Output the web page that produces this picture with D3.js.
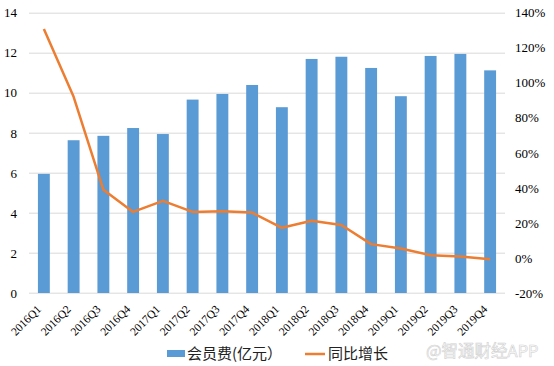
<!DOCTYPE html>
<html>
<head>
<meta charset="utf-8">
<script src="https://cdn.jsdelivr.net/npm/d3@7"></script>
<style>
body { margin: 0; background: #fff; }
</style>
</head>
<body>
<script>
var width = 554;
var height = 366;

// data
var quarters = ["2016Q1","2016Q2","2016Q3","2016Q4","2017Q1","2017Q2","2017Q3","2017Q4",
                "2018Q1","2018Q2","2018Q3","2018Q4","2019Q1","2019Q2","2019Q3","2019Q4"];
var fees = [5.95, 7.63, 7.85, 8.24, 7.94, 9.66, 9.94, 10.39,
            9.28, 11.69, 11.8, 11.24, 9.83, 11.84, 11.94, 11.12];
var growth = [130.7, 92, 38.9, 26.3, 32.6, 26.3, 26.7, 25.9,
              17.2, 21.2, 18.8, 7.9, 5.4, 1.6, 0.9, -0.8];
var leftTicks = [0, 2, 4, 6, 8, 10, 12, 14];
var rightTicks = [-20, 0, 20, 40, 60, 80, 100, 120, 140];
var legendNames = ["会员费(亿元）", "同比增长"];

var serif = "'Liberation Serif', 'Times New Roman', serif";
var cjk = "'Noto Sans CJK SC', 'Noto Sans', sans-serif";

var margin = {top: 12.7, right: 49, bottom: 73, left: 29};
var innerW = width - margin.left - margin.right;
var innerH = height - margin.top - margin.bottom;

var svg = d3.select("body").append("svg")
            .attr("width", width)
            .attr("height", height);

var g = svg.append("g")
           .attr("transform", "translate(" + margin.left + "," + margin.top + ")");

var x = d3.scaleBand()
          .domain(quarters)
          .range([0, innerW])
          .paddingInner(0.6)
          .paddingOuter(0.3);

var yL = d3.scaleLinear().domain([0, 14]).range([innerH, 0]);
var yR = d3.scaleLinear().domain([-20, 140]).range([innerH, 0]);

// gridlines
g.append("g")
 .selectAll("line")
 .data(leftTicks)
 .enter()
 .append("line")
 .attr("x1", 0)
 .attr("x2", innerW)
 .attr("y1", function(d) { return Math.round(yL(d)) + 0.5; })
 .attr("y2", function(d) { return Math.round(yL(d)) + 0.5; })
 .attr("stroke", "#d9d9d9")
 .attr("stroke-width", 1);

// bars
g.append("g")
 .selectAll("rect")
 .data(fees)
 .enter()
 .append("rect")
 .attr("x", function(d, i) { return x(quarters[i]); })
 .attr("width", x.bandwidth())
 .attr("y", function(d) { return yL(d); })
 .attr("height", function(d) { return innerH - yL(d); })
 .attr("fill", "#5b9bd5");

// growth line
var line = d3.line()
             .x(function(d, i) { return x(quarters[i]) + x.bandwidth() / 2; })
             .y(function(d) { return yR(d); });

g.append("path")
 .datum(growth)
 .attr("d", line)
 .attr("fill", "none")
 .attr("stroke", "#ed7d31")
 .attr("stroke-width", 2.5)
 .attr("stroke-linejoin", "round");

// left axis
var axL = g.append("g")
           .call(d3.axisLeft(yL).tickValues(leftTicks).tickSize(0).tickPadding(12));
axL.select(".domain").remove();
axL.attr("font-family", serif).attr("font-size", 13);
axL.selectAll("text").attr("fill", "#000");

// right axis
var axR = g.append("g")
           .attr("transform", "translate(" + innerW + ",0)")
           .call(d3.axisRight(yR).tickValues(rightTicks).tickSize(0).tickPadding(10)
                   .tickFormat(function(d) { return d + "%"; }));
axR.select(".domain").remove();
axR.attr("font-family", serif).attr("font-size", 13);
axR.selectAll("text").attr("fill", "#000");

// x axis labels
var axX = g.append("g")
           .attr("transform", "translate(0," + innerH + ")")
           .call(d3.axisBottom(x).tickSize(0).tickPadding(0));
axX.select(".domain").remove();
axX.attr("font-family", serif).attr("font-size", 11.5);
axX.selectAll("text")
   .attr("fill", "#000")
   .attr("text-anchor", "end")
   .attr("dy", null)
   .attr("y", null)
   .attr("transform", "translate(-2,17) rotate(-45)");

// legend
var leg = svg.append("g")
             .attr("transform", "translate(167,354)")
             .attr("font-family", cjk)
             .attr("font-size", 15);
leg.append("rect")
   .attr("x", 0).attr("y", -4).attr("width", 18).attr("height", 7)
   .attr("fill", "#5b9bd5");
leg.append("text")
   .attr("x", 20).attr("y", 0).attr("dy", "0.35em")
   .attr("fill", "#222")
   .text(legendNames[0]);
leg.append("line")
   .attr("x1", 138).attr("x2", 158).attr("y1", 0).attr("y2", 0)
   .attr("stroke", "#ed7d31").attr("stroke-width", 2.5);
leg.append("text")
   .attr("x", 161).attr("y", 0).attr("dy", "0.35em")
   .attr("fill", "#222")
   .text(legendNames[1]);

// watermark
svg.append("text")
   .attr("x", 426).attr("y", 351).attr("dy", "0.35em")
   .attr("font-family", cjk).attr("font-size", 16.5)
   .attr("fill", "#fff").attr("stroke", "#cfcfcf").attr("stroke-width", 0.6)
   .text("@智通财经APP");
</script>
</body>
</html>
